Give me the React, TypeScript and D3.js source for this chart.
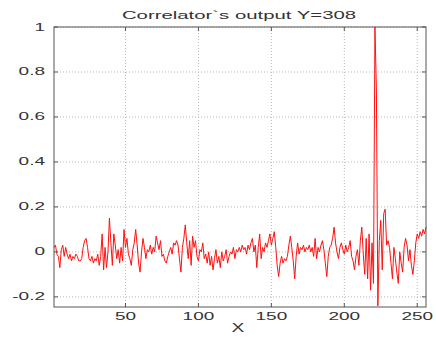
import React, { useRef, useEffect } from "react";
import * as d3 from "d3";

// correlator output, samples 1..256
const values = [
  0.02, 0.03, -0.01, -0.02, -0.07, 0.01, 0.03, -0.02, 0.02, -0.01,
  -0.03, -0.01, -0.04, -0.02, -0.03, -0.01, -0.02, -0.04, -0.04, -0.03,
  0.02, 0.05, 0.06, 0.02, -0.03, -0.04, -0.02, -0.05, -0.03, -0.04,
  -0.01, -0.06, -0.02, 0.08, -0.08, 0.02, -0.07, 0.0, 0.15, 0.04,
  -0.06, 0.08, 0.03, -0.03, 0.01, -0.05, 0.02, -0.04, 0.1, 0.02,
  0.06, -0.01, -0.03, -0.06, 0.01, 0.04, 0.1, 0.03, -0.05, -0.09,
  0.0, 0.06, 0.02, -0.03, 0.01, 0.0, 0.03, -0.01, 0.02, 0.0,
  0.07, 0.04, 0.01, 0.05, -0.02, -0.01, -0.04, -0.05, -0.02, 0.0,
  0.02, -0.01, 0.04, 0.03, 0.05, 0.03, -0.03, -0.09, 0.02, 0.06,
  0.12, 0.04, -0.03, 0.05, -0.06, 0.07, 0.02, 0.05, -0.02, -0.04,
  0.01, 0.0, 0.04, -0.03, -0.01, -0.05, 0.0, -0.06, -0.02, -0.08,
  -0.03, 0.01, -0.05, -0.02, -0.07, 0.0, -0.04, -0.02, 0.01, -0.05,
  -0.02, 0.0, -0.01, 0.02, -0.03, 0.01, 0.0, 0.02, 0.0, 0.03,
  0.01, 0.02, -0.01, 0.03, 0.01, 0.04, 0.06, 0.0, 0.03, -0.07,
  0.02, 0.08, -0.03, 0.02, 0.0, 0.04, 0.02, 0.05, 0.08, 0.03,
  0.06, 0.09, 0.02, -0.06, -0.11, -0.05, -0.02, -0.05, -0.03, -0.04,
  -0.02, 0.03, 0.07, 0.02, -0.04, -0.12, -0.02, 0.04, -0.01, 0.02,
  0.01, 0.03, 0.0, 0.02, 0.01, 0.03, 0.0, 0.02, -0.02, 0.06,
  -0.03, 0.02, 0.0, 0.03, 0.05, 0.01, -0.05, -0.11, -0.02, 0.02,
  0.03, 0.06, 0.11, 0.04, 0.0, -0.03, 0.02, 0.04, 0.01, -0.01,
  0.03, 0.0, 0.02, 0.05, -0.02, -0.04, -0.08, -0.02, 0.01, -0.06,
  0.05, 0.11, -0.01, -0.1, 0.06, -0.12, 0.08, -0.17, 0.04, -0.14,
  1.0, 0.72, -0.24, 0.05, 0.14, -0.08, 0.17, 0.19, 0.03, 0.05,
  0.02, -0.05, -0.12, 0.02, -0.03, -0.09, -0.14, 0.0, -0.05, -0.09,
  0.02, 0.06, 0.03, -0.04, 0.01, -0.06, -0.1, -0.04, 0.04, 0.08,
  0.06, 0.09, 0.07, 0.1, 0.08, 0.11,
];

const xTicks = [50, 100, 150, 200, 250];
const yTicks = [-0.2, 0, 0.2, 0.4, 0.6, 0.8, 1];
const title = "Correlator`s output Y=308";
const xLabel = "X";

const App = () => {
  const chartRef = useRef<SVGSVGElement>(null);

  useEffect(() => {
    const svg = d3.select(chartRef.current);
    svg.selectAll("*").remove();

    const left = 54, right = 426, top = 27, bottom = 307;
    const font = "Arial, 'Liberation Sans', sans-serif";
    const textColor = "#333";

    const x = d3.scaleLinear().domain([1, 256]).range([left, right]);
    const y = d3.scaleLinear().domain([-0.245, 1]).range([bottom, top]);

    svg.append("rect").attr("width", 436).attr("height", 338).attr("fill", "#fff");

    // grid
    const grid = svg.append("g").attr("stroke", "#b8b8b8").attr("stroke-dasharray", "1,2");
    xTicks.forEach((t) => {
      grid.append("line").attr("x1", x(t)).attr("x2", x(t)).attr("y1", top).attr("y2", bottom);
    });
    yTicks.forEach((t) => {
      grid.append("line").attr("x1", left).attr("x2", right).attr("y1", y(t)).attr("y2", y(t));
    });

    // data line
    const line = d3
      .line<number>()
      .x((d, i) => x(i + 1))
      .y((d) => y(d));

    svg
      .append("path")
      .datum(values)
      .attr("d", line)
      .attr("fill", "none")
      .attr("stroke", "#ff1010")
      .attr("stroke-width", 1);

    // box + inward ticks
    const box = svg.append("g").attr("stroke", "#555").attr("fill", "none");
    box.append("rect")
      .attr("x", left).attr("y", top)
      .attr("width", right - left).attr("height", bottom - top);
    xTicks.forEach((t) => {
      box.append("line").attr("x1", x(t)).attr("x2", x(t)).attr("y1", bottom).attr("y2", bottom - 4);
      box.append("line").attr("x1", x(t)).attr("x2", x(t)).attr("y1", top).attr("y2", top + 4);
    });
    yTicks.forEach((t) => {
      box.append("line").attr("x1", left).attr("x2", left + 4).attr("y1", y(t)).attr("y2", y(t));
      box.append("line").attr("x1", right).attr("x2", right - 4).attr("y1", y(t)).attr("y2", y(t));
    });

    // labels (the source image is stretched horizontally)
    xTicks.forEach((t) => {
      svg.append("text")
        .attr("transform", `translate(${x(t)},320) scale(1.9,1)`)
        .attr("text-anchor", "middle")
        .attr("font-family", font).attr("font-size", 10).attr("fill", textColor)
        .text(t);
    });
    yTicks.forEach((t) => {
      svg.append("text")
        .attr("transform", `translate(45,${y(t) + 3.5}) scale(1.9,1)`)
        .attr("text-anchor", "end")
        .attr("font-family", font).attr("font-size", 10).attr("fill", textColor)
        .text(t === 0 || t === 1 ? String(t) : t.toFixed(1));
    });

    svg.append("text")
      .attr("transform", `translate(239,18.5) scale(1.85,1)`)
      .attr("text-anchor", "middle")
      .attr("font-family", font).attr("font-size", 11).attr("fill", textColor)
      .text(title);

    svg.append("text")
      .attr("transform", `translate(238,332) scale(1.6,1)`)
      .attr("text-anchor", "middle")
      .attr("font-family", font).attr("font-size", 12).attr("fill", textColor)
      .text(xLabel);
  }, []);

  return (
    <svg
      ref={chartRef}
      width={436}
      height={338}
      style={{ position: "absolute", left: 0, top: 0 }}
    />
  );
};

export default App;
